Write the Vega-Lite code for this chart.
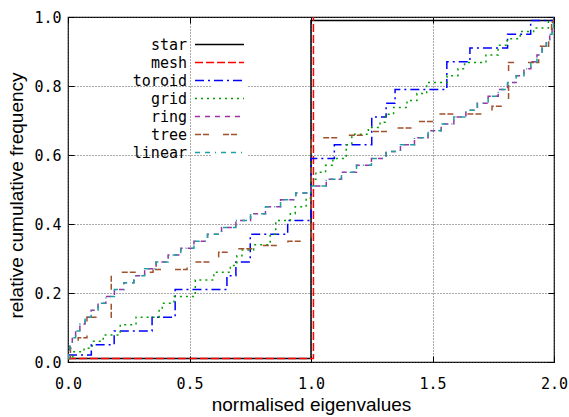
{
  "$schema": "https://vega.github.io/schema/vega-lite/v6.json",
  "width": 486,
  "height": 345,
  "autosize": {"type": "none"},
  "padding": {"left": 68, "top": 17, "right": 15, "bottom": 55},
  "background": "white",
  "config": {
    "view": {"stroke": "black", "strokeWidth": 1.2},
    "axis": {
      "labelFont": "DejaVu Sans Mono",
      "labelFontSize": 15,
      "labelColor": "black",
      "labelFlush": false,
      "labelOverlap": false,
      "titleFont": "Liberation Sans",
      "titleFontSize": 19,
      "titleFontWeight": "normal",
      "titleColor": "black",
      "gridColor": "#555555",
      "gridDash": [1, 2],
      "gridOpacity": 1,
      "gridWidth": 1,
      "domain": false,
      "tickColor": "black",
      "tickSize": -6,
      "tickWidth": 1
    }
  },
  "datasets": {
    "cdf": [
      {"series": "star", "x": 0, "y": 0.01},
      {"series": "star", "x": 1.0, "y": 0.99},
      {"series": "star", "x": 2.0, "y": 1.0},
      {"series": "mesh", "x": 0, "y": 0.01},
      {"series": "mesh", "x": 1.01, "y": 1.0},
      {"series": "toroid", "x": 0, "y": 0.02},
      {"series": "toroid", "x": 0.096, "y": 0.05},
      {"series": "toroid", "x": 0.19, "y": 0.09},
      {"series": "toroid", "x": 0.346, "y": 0.13},
      {"series": "toroid", "x": 0.441, "y": 0.21},
      {"series": "toroid", "x": 0.654, "y": 0.25},
      {"series": "toroid", "x": 0.691, "y": 0.29},
      {"series": "toroid", "x": 0.75, "y": 0.37},
      {"series": "toroid", "x": 0.904, "y": 0.41},
      {"series": "toroid", "x": 1.0, "y": 0.59},
      {"series": "toroid", "x": 1.096, "y": 0.63},
      {"series": "toroid", "x": 1.25, "y": 0.71},
      {"series": "toroid", "x": 1.309, "y": 0.75},
      {"series": "toroid", "x": 1.346, "y": 0.79},
      {"series": "toroid", "x": 1.559, "y": 0.87},
      {"series": "toroid", "x": 1.654, "y": 0.91},
      {"series": "toroid", "x": 1.809, "y": 0.95},
      {"series": "toroid", "x": 1.904, "y": 0.99},
      {"series": "toroid", "x": 2.0, "y": 1.0},
      {"series": "grid", "x": 0, "y": 0.01},
      {"series": "grid", "x": 0.02, "y": 0.03},
      {"series": "grid", "x": 0.066, "y": 0.04},
      {"series": "grid", "x": 0.1, "y": 0.06},
      {"series": "grid", "x": 0.145, "y": 0.078},
      {"series": "grid", "x": 0.215, "y": 0.108},
      {"series": "grid", "x": 0.28, "y": 0.13},
      {"series": "grid", "x": 0.375, "y": 0.152},
      {"series": "grid", "x": 0.388, "y": 0.17},
      {"series": "grid", "x": 0.436, "y": 0.19},
      {"series": "grid", "x": 0.524, "y": 0.238},
      {"series": "grid", "x": 0.6, "y": 0.26},
      {"series": "grid", "x": 0.668, "y": 0.28},
      {"series": "grid", "x": 0.695, "y": 0.308},
      {"series": "grid", "x": 0.716, "y": 0.325},
      {"series": "grid", "x": 0.764, "y": 0.34},
      {"series": "grid", "x": 0.832, "y": 0.37},
      {"series": "grid", "x": 0.855, "y": 0.41},
      {"series": "grid", "x": 0.915, "y": 0.43},
      {"series": "grid", "x": 0.935, "y": 0.45},
      {"series": "grid", "x": 0.98, "y": 0.475},
      {"series": "grid", "x": 1.0, "y": 0.53},
      {"series": "grid", "x": 1.02, "y": 0.55},
      {"series": "grid", "x": 1.06, "y": 0.57},
      {"series": "grid", "x": 1.09, "y": 0.59},
      {"series": "grid", "x": 1.145, "y": 0.63},
      {"series": "grid", "x": 1.168, "y": 0.66},
      {"series": "grid", "x": 1.236, "y": 0.68},
      {"series": "grid", "x": 1.284, "y": 0.695},
      {"series": "grid", "x": 1.305, "y": 0.718},
      {"series": "grid", "x": 1.34, "y": 0.738},
      {"series": "grid", "x": 1.395, "y": 0.758},
      {"series": "grid", "x": 1.436, "y": 0.778},
      {"series": "grid", "x": 1.476, "y": 0.81},
      {"series": "grid", "x": 1.56, "y": 0.83},
      {"series": "grid", "x": 1.605, "y": 0.85},
      {"series": "grid", "x": 1.632, "y": 0.868},
      {"series": "grid", "x": 1.72, "y": 0.89},
      {"series": "grid", "x": 1.77, "y": 0.918},
      {"series": "grid", "x": 1.807, "y": 0.937},
      {"series": "grid", "x": 1.861, "y": 0.958},
      {"series": "grid", "x": 1.916, "y": 0.968},
      {"series": "grid", "x": 1.977, "y": 0.987},
      {"series": "grid", "x": 2.0, "y": 1.0},
      {"series": "ring", "x": 0, "y": 0.01},
      {"series": "ring", "x": 0.002, "y": 0.03},
      {"series": "ring", "x": 0.0079, "y": 0.05},
      {"series": "ring", "x": 0.0177, "y": 0.07},
      {"series": "ring", "x": 0.0314, "y": 0.09},
      {"series": "ring", "x": 0.0489, "y": 0.11},
      {"series": "ring", "x": 0.0702, "y": 0.13},
      {"series": "ring", "x": 0.0952, "y": 0.15},
      {"series": "ring", "x": 0.1237, "y": 0.17},
      {"series": "ring", "x": 0.1557, "y": 0.19},
      {"series": "ring", "x": 0.191, "y": 0.21},
      {"series": "ring", "x": 0.2295, "y": 0.23},
      {"series": "ring", "x": 0.271, "y": 0.25},
      {"series": "ring", "x": 0.3154, "y": 0.27},
      {"series": "ring", "x": 0.3626, "y": 0.29},
      {"series": "ring", "x": 0.4122, "y": 0.31},
      {"series": "ring", "x": 0.4642, "y": 0.33},
      {"series": "ring", "x": 0.5183, "y": 0.35},
      {"series": "ring", "x": 0.5742, "y": 0.37},
      {"series": "ring", "x": 0.6319, "y": 0.39},
      {"series": "ring", "x": 0.691, "y": 0.41},
      {"series": "ring", "x": 0.7513, "y": 0.43},
      {"series": "ring", "x": 0.8126, "y": 0.45},
      {"series": "ring", "x": 0.8747, "y": 0.47},
      {"series": "ring", "x": 0.9372, "y": 0.49},
      {"series": "ring", "x": 1.0, "y": 0.51},
      {"series": "ring", "x": 1.0628, "y": 0.53},
      {"series": "ring", "x": 1.1253, "y": 0.55},
      {"series": "ring", "x": 1.1874, "y": 0.57},
      {"series": "ring", "x": 1.2487, "y": 0.59},
      {"series": "ring", "x": 1.309, "y": 0.61},
      {"series": "ring", "x": 1.3681, "y": 0.63},
      {"series": "ring", "x": 1.4258, "y": 0.65},
      {"series": "ring", "x": 1.4818, "y": 0.67},
      {"series": "ring", "x": 1.5358, "y": 0.69},
      {"series": "ring", "x": 1.5878, "y": 0.71},
      {"series": "ring", "x": 1.6374, "y": 0.73},
      {"series": "ring", "x": 1.6846, "y": 0.75},
      {"series": "ring", "x": 1.729, "y": 0.77},
      {"series": "ring", "x": 1.7705, "y": 0.79},
      {"series": "ring", "x": 1.809, "y": 0.81},
      {"series": "ring", "x": 1.8443, "y": 0.83},
      {"series": "ring", "x": 1.8763, "y": 0.85},
      {"series": "ring", "x": 1.9048, "y": 0.87},
      {"series": "ring", "x": 1.9298, "y": 0.89},
      {"series": "ring", "x": 1.9511, "y": 0.91},
      {"series": "ring", "x": 1.9686, "y": 0.93},
      {"series": "ring", "x": 1.9823, "y": 0.95},
      {"series": "ring", "x": 1.9921, "y": 0.97},
      {"series": "ring", "x": 1.998, "y": 0.99},
      {"series": "ring", "x": 2.0, "y": 1.0},
      {"series": "tree", "x": 0, "y": 0.01},
      {"series": "tree", "x": 0.01, "y": 0.04},
      {"series": "tree", "x": 0.042, "y": 0.07},
      {"series": "tree", "x": 0.078, "y": 0.13},
      {"series": "tree", "x": 0.178, "y": 0.26},
      {"series": "tree", "x": 0.35, "y": 0.268},
      {"series": "tree", "x": 0.49, "y": 0.29},
      {"series": "tree", "x": 0.6, "y": 0.305},
      {"series": "tree", "x": 0.62, "y": 0.318},
      {"series": "tree", "x": 0.68, "y": 0.328},
      {"series": "tree", "x": 0.79, "y": 0.338},
      {"series": "tree", "x": 0.905, "y": 0.35},
      {"series": "tree", "x": 1.0, "y": 0.65},
      {"series": "tree", "x": 1.12, "y": 0.657},
      {"series": "tree", "x": 1.216, "y": 0.668},
      {"series": "tree", "x": 1.333, "y": 0.678},
      {"series": "tree", "x": 1.43, "y": 0.697},
      {"series": "tree", "x": 1.524, "y": 0.719},
      {"series": "tree", "x": 1.745, "y": 0.741},
      {"series": "tree", "x": 1.813, "y": 0.868},
      {"series": "tree", "x": 1.937, "y": 0.915},
      {"series": "tree", "x": 1.978, "y": 0.95},
      {"series": "tree", "x": 1.99, "y": 0.985},
      {"series": "tree", "x": 2.0, "y": 1.0},
      {"series": "linear", "x": 0, "y": 0.01},
      {"series": "linear", "x": 0.002, "y": 0.03},
      {"series": "linear", "x": 0.0079, "y": 0.05},
      {"series": "linear", "x": 0.0177, "y": 0.07},
      {"series": "linear", "x": 0.0314, "y": 0.09},
      {"series": "linear", "x": 0.0489, "y": 0.11},
      {"series": "linear", "x": 0.0702, "y": 0.13},
      {"series": "linear", "x": 0.0952, "y": 0.15},
      {"series": "linear", "x": 0.1237, "y": 0.17},
      {"series": "linear", "x": 0.1557, "y": 0.19},
      {"series": "linear", "x": 0.191, "y": 0.21},
      {"series": "linear", "x": 0.2295, "y": 0.23},
      {"series": "linear", "x": 0.271, "y": 0.25},
      {"series": "linear", "x": 0.3154, "y": 0.27},
      {"series": "linear", "x": 0.3626, "y": 0.29},
      {"series": "linear", "x": 0.4122, "y": 0.31},
      {"series": "linear", "x": 0.4642, "y": 0.33},
      {"series": "linear", "x": 0.5183, "y": 0.35},
      {"series": "linear", "x": 0.5742, "y": 0.37},
      {"series": "linear", "x": 0.6319, "y": 0.39},
      {"series": "linear", "x": 0.691, "y": 0.41},
      {"series": "linear", "x": 0.7513, "y": 0.43},
      {"series": "linear", "x": 0.8126, "y": 0.45},
      {"series": "linear", "x": 0.8747, "y": 0.47},
      {"series": "linear", "x": 0.9372, "y": 0.49},
      {"series": "linear", "x": 1.0, "y": 0.51},
      {"series": "linear", "x": 1.0628, "y": 0.53},
      {"series": "linear", "x": 1.1253, "y": 0.55},
      {"series": "linear", "x": 1.1874, "y": 0.57},
      {"series": "linear", "x": 1.2487, "y": 0.59},
      {"series": "linear", "x": 1.309, "y": 0.61},
      {"series": "linear", "x": 1.3681, "y": 0.63},
      {"series": "linear", "x": 1.4258, "y": 0.65},
      {"series": "linear", "x": 1.4818, "y": 0.67},
      {"series": "linear", "x": 1.5358, "y": 0.69},
      {"series": "linear", "x": 1.5878, "y": 0.71},
      {"series": "linear", "x": 1.6374, "y": 0.73},
      {"series": "linear", "x": 1.6846, "y": 0.75},
      {"series": "linear", "x": 1.729, "y": 0.77},
      {"series": "linear", "x": 1.7705, "y": 0.79},
      {"series": "linear", "x": 1.809, "y": 0.81},
      {"series": "linear", "x": 1.8443, "y": 0.83},
      {"series": "linear", "x": 1.8763, "y": 0.85},
      {"series": "linear", "x": 1.9048, "y": 0.87},
      {"series": "linear", "x": 1.9298, "y": 0.89},
      {"series": "linear", "x": 1.9511, "y": 0.91},
      {"series": "linear", "x": 1.9686, "y": 0.93},
      {"series": "linear", "x": 1.9823, "y": 0.95},
      {"series": "linear", "x": 1.9921, "y": 0.97},
      {"series": "linear", "x": 1.998, "y": 0.99},
      {"series": "linear", "x": 2.0, "y": 1.0}
    ]
  },
  "data": {"name": "cdf"},
  "resolve": {"axis": {"x": "independent", "y": "independent"}},
  "layer": [
    {
      "mark": {"type": "line", "interpolate": "step-after", "strokeWidth": 1.5, "clip": true},
      "encoding": {
        "x": {
          "field": "x", "type": "quantitative",
          "scale": {"domain": [0, 2], "nice": false, "zero": false},
          "axis": {"values": [0, 0.5, 1, 1.5, 2], "format": ".1f", "labelPadding": 20, "title": "normalised eigenvalues", "titleBaseline": "alphabetic", "titleY": 48}
        },
        "y": {
          "field": "y", "type": "quantitative",
          "scale": {"domain": [0, 1], "nice": false},
          "axis": {"values": [0, 0.2, 0.4, 0.6, 0.8, 1.0], "format": ".1f", "labelPadding": 13, "title": "relative cumulative frequency", "titleAngle": -90, "titleBaseline": "alphabetic", "titleAlign": "center", "titleX": -46, "titleY": 178}
        },
        "color": {
          "field": "series", "type": "nominal",
          "scale": {
            "domain": ["star", "mesh", "toroid", "grid", "ring", "tree", "linear"],
            "range": ["#000000", "#ff0000", "#0000ff", "#00a000", "#a030a8", "#a0522d", "#20a0a0"]
          },
          "legend": {
            "orient": "none", "legendX": 144, "legendY": 20, "title": null,
            "labelFont": "DejaVu Sans Mono", "labelFontSize": 15, "labelColor": "black",
            "labelAlign": "right", "labelOffset": -40,
            "symbolType": "M-5,0H5", "symbolSize": 96, "symbolStrokeWidth": 1.5,
            "rowPadding": 2, "padding": 0, "fillColor": "white"
          }
        },
        "strokeDash": {
          "field": "series", "type": "nominal",
          "scale": {
            "domain": ["star", "mesh", "toroid", "grid", "ring", "tree", "linear"],
            "range": [[1, 0], [8, 3], [9, 4, 2, 4], [2, 4], [5, 5], [6, 2, 6, 14], [5, 5, 5, 5, 1, 5]]
          },
          "legend": {
            "orient": "none", "legendX": 144, "legendY": 20, "title": null,
            "labelFont": "DejaVu Sans Mono", "labelFontSize": 15, "labelColor": "black",
            "labelAlign": "right", "labelOffset": -40,
            "symbolType": "M-5,0H5", "symbolSize": 96, "symbolStrokeWidth": 1.5,
            "rowPadding": 2, "padding": 0, "fillColor": "white"
          }
        }
      }
    },
    {
      "mark": {"type": "point", "opacity": 0},
      "encoding": {
        "x": {"field": "x", "type": "quantitative", "axis": {"orient": "top", "values": [0, 0.5, 1, 1.5, 2], "labels": false, "title": null, "grid": false}},
        "y": {"field": "y", "type": "quantitative", "axis": {"orient": "right", "values": [0, 0.2, 0.4, 0.6, 0.8, 1.0], "labels": false, "title": null, "grid": false}}
      }
    }
  ]
}
